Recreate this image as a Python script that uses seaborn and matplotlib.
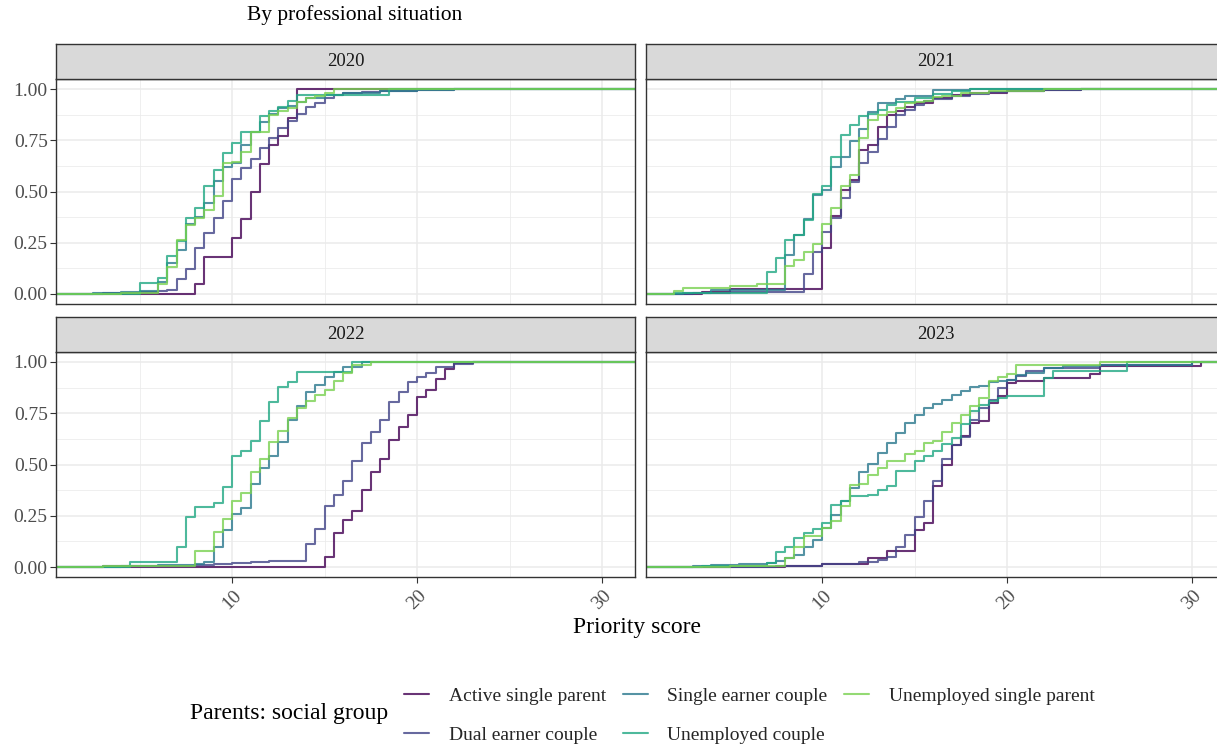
import numpy as np
import pandas as pd
import matplotlib
matplotlib.use("Agg")
import matplotlib.pyplot as plt
from matplotlib.lines import Line2D
import seaborn as sns

# ---------------- data (step points of each ECDF: score, cumulative share) ----------------
groups = ["Active single parent", "Dual earner couple", "Single earner couple",
          "Unemployed couple", "Unemployed single parent"]
years = ["2020", "2021", "2022", "2023"]
x_ticks = [10, 20, 30]
y_ticks = [0.00, 0.25, 0.50, 0.75, 1.00]

# 2020
x20_active = [8, 8.5, 10, 10.5, 11, 11.5, 12, 12.5, 13, 13.5]
y20_active = [0.047, 0.182, 0.275, 0.366, 0.499, 0.636, 0.728, 0.769, 0.859, 1.0]
x20_dual = [3, 5, 6, 6.5, 7, 7.5, 8, 8.5, 9, 9.5, 10, 10.5, 11, 11.5, 12, 12.5, 13, 13.5, 14, 14.5, 15, 15.5, 16, 17, 18, 20, 22]
y20_dual = [0.005, 0.01, 0.015, 0.02, 0.075, 0.122, 0.223, 0.296, 0.369, 0.454, 0.559, 0.613, 0.657, 0.71, 0.76, 0.808, 0.844, 0.88, 0.91, 0.93, 0.955, 0.97, 0.98, 0.985, 0.99, 0.995, 1.0]
x20_single = [2.5, 4, 5, 6, 6.5, 7, 7.5, 8, 8.5, 9, 9.5, 10, 10.5, 11, 11.5, 12, 12.5, 13, 13.5, 14, 15, 16, 18, 20, 22]
y20_single = [0.005, 0.01, 0.015, 0.06, 0.15, 0.215, 0.34, 0.377, 0.442, 0.551, 0.621, 0.637, 0.727, 0.789, 0.841, 0.878, 0.906, 0.919, 0.938, 0.958, 0.971, 0.98, 0.99, 0.995, 1.0]
x20_unemp = [5, 6, 6.5, 7, 7.5, 8, 8.5, 9, 9.5, 10, 10.5, 11.5, 12, 12.5, 13, 13.5, 18.5]
y20_unemp = [0.052, 0.08, 0.187, 0.259, 0.372, 0.421, 0.528, 0.605, 0.686, 0.738, 0.789, 0.868, 0.894, 0.91, 0.94, 0.971, 1.0]
x20_unsingle = [4, 6, 6.5, 7, 7.5, 8, 8.5, 9, 9.5, 10, 10.5, 11, 12, 12.5, 13, 13.5, 14, 14.5, 15, 15.5]
y20_unsingle = [0.005, 0.05, 0.13, 0.265, 0.337, 0.372, 0.41, 0.48, 0.637, 0.645, 0.694, 0.789, 0.873, 0.893, 0.906, 0.935, 0.954, 0.967, 0.979, 1.0]

# 2021
x21_active = [3.5, 5, 10, 10.5, 11, 11.5, 12, 12.5, 13, 13.5, 14, 14.5, 15, 16, 17, 18, 20, 22, 24]
y21_active = [0.01, 0.023, 0.224, 0.379, 0.509, 0.556, 0.704, 0.728, 0.815, 0.871, 0.891, 0.91, 0.93, 0.955, 0.97, 0.98, 0.99, 0.995, 1.0]
x21_dual = [3, 5, 9, 9.5, 10, 10.5, 11, 11.5, 12, 12.5, 13, 13.5, 14, 14.5, 15, 15.5, 16, 17, 18, 19, 20, 22, 24, 26]
y21_dual = [0.005, 0.01, 0.098, 0.207, 0.304, 0.369, 0.467, 0.548, 0.637, 0.694, 0.756, 0.816, 0.873, 0.898, 0.922, 0.94, 0.95, 0.965, 0.975, 0.983, 0.99, 0.995, 0.998, 1.0]
x21_single = [2.5, 4, 8, 8.5, 9, 9.5, 10, 10.5, 11, 11.5, 12, 12.5, 13, 14, 14.5, 16, 18]
y21_single = [0.005, 0.02, 0.189, 0.289, 0.366, 0.485, 0.509, 0.62, 0.668, 0.748, 0.807, 0.888, 0.932, 0.951, 0.967, 0.993, 1.0]
x21_unemp = [2, 7, 7.5, 8, 8.5, 9, 9.5, 10, 10.5, 11, 11.5, 12, 12.5, 13, 13.5, 14, 15, 16, 17, 18]
y21_unemp = [0.003, 0.107, 0.176, 0.265, 0.289, 0.362, 0.489, 0.528, 0.668, 0.777, 0.823, 0.867, 0.88, 0.9, 0.92, 0.935, 0.955, 0.975, 0.99, 1.0]
x21_unsingle = [2, 2.5, 5, 6.5, 8, 8.5, 9, 9.5, 10, 10.5, 11, 11.5, 12, 12.5, 13, 13.5, 14, 14.5, 15, 15.5, 16, 16.5, 17.5, 19, 22]
y21_unsingle = [0.013, 0.029, 0.041, 0.05, 0.135, 0.167, 0.203, 0.246, 0.343, 0.42, 0.529, 0.579, 0.761, 0.847, 0.871, 0.888, 0.907, 0.93, 0.938, 0.943, 0.96, 0.967, 0.98, 0.99, 1.0]

# 2022
x22_active = [15, 15.5, 16, 16.5, 17, 17.5, 18, 18.5, 19, 19.5, 20, 20.5, 21, 21.5, 22, 23]
y22_active = [0.047, 0.166, 0.228, 0.275, 0.377, 0.463, 0.528, 0.618, 0.681, 0.743, 0.829, 0.865, 0.919, 0.967, 0.995, 1.0]
x22_dual = [3, 7, 8, 9, 10, 11, 12, 13, 14, 14.5, 15, 15.5, 16, 16.5, 17, 17.5, 18, 18.5, 19, 19.5, 20, 20.5, 21, 22, 23]
y22_dual = [0.003, 0.005, 0.01, 0.015, 0.02, 0.025, 0.028, 0.03, 0.112, 0.187, 0.296, 0.353, 0.418, 0.518, 0.605, 0.659, 0.719, 0.803, 0.852, 0.902, 0.925, 0.946, 0.974, 0.99, 1.0]
x22_single = [4, 6, 7, 8, 8.5, 9, 9.5, 10, 10.5, 11, 11.5, 12, 12.5, 13, 13.5, 14, 14.5, 15, 15.5, 16, 17]
y22_single = [0.003, 0.008, 0.012, 0.016, 0.025, 0.098, 0.179, 0.26, 0.288, 0.405, 0.483, 0.54, 0.612, 0.717, 0.784, 0.855, 0.89, 0.928, 0.95, 0.975, 1.0]
x22_unemp = [4.5, 7, 7.5, 8, 9, 9.5, 10, 10.5, 11, 11.5, 12, 12.5, 13, 13.5, 16.5]
y22_unemp = [0.024, 0.1, 0.246, 0.293, 0.313, 0.389, 0.54, 0.564, 0.613, 0.71, 0.805, 0.878, 0.902, 0.951, 1.0]
x22_unsingle = [3, 8, 9, 9.5, 10, 10.5, 11, 11.5, 12, 12.5, 13, 13.5, 14, 14.5, 15, 15.5, 16, 16.5, 17.5]
y22_unsingle = [0.003, 0.076, 0.17, 0.234, 0.32, 0.36, 0.462, 0.528, 0.61, 0.663, 0.728, 0.774, 0.81, 0.838, 0.865, 0.906, 0.946, 0.987, 1.0]

# 2023
x23_active = [8, 10, 12.5, 13.5, 15, 15.5, 16, 16.5, 17, 17.5, 18, 18.5, 19, 19.5, 20, 20.5, 22, 24.5, 25, 30.5]
y23_active = [0.005, 0.015, 0.044, 0.076, 0.182, 0.215, 0.393, 0.499, 0.597, 0.637, 0.702, 0.711, 0.8, 0.833, 0.898, 0.909, 0.922, 0.941, 0.979, 1.0]
x23_dual = [7.5, 10, 12, 13, 13.5, 14, 14.5, 15, 15.5, 16, 16.5, 17, 17.5, 18, 18.5, 19, 19.5, 20, 20.5, 21, 22, 25, 30]
y23_dual = [0.005, 0.015, 0.025, 0.035, 0.05, 0.096, 0.158, 0.244, 0.324, 0.42, 0.528, 0.593, 0.632, 0.718, 0.774, 0.815, 0.872, 0.913, 0.934, 0.954, 0.97, 0.985, 1.0]
x23_single = [3, 4, 5.5, 7, 7.5, 8, 8.5, 9, 9.5, 10, 10.5, 11, 11.5, 12, 12.5, 13, 13.5, 14, 14.5, 15, 15.5, 16, 16.5, 17, 17.5, 18, 18.5, 19, 19.5, 20, 20.5, 21, 22, 23, 25, 30]
y23_single = [0.005, 0.008, 0.015, 0.02, 0.028, 0.044, 0.06, 0.1, 0.13, 0.19, 0.252, 0.32, 0.385, 0.463, 0.502, 0.556, 0.605, 0.654, 0.702, 0.743, 0.776, 0.795, 0.816, 0.837, 0.857, 0.878, 0.881, 0.902, 0.909, 0.914, 0.935, 0.946, 0.971, 0.979, 0.987, 1.0]
x23_unemp = [3.5, 7, 7.5, 8, 8.5, 9, 9.5, 10, 10.5, 11, 11.5, 12.5, 13, 13.5, 14, 15, 15.5, 16, 16.5, 17, 17.5, 18, 18.5, 19, 19.5, 20, 22, 22.5, 26.5]
y23_unemp = [0.005, 0.02, 0.072, 0.1, 0.14, 0.167, 0.187, 0.215, 0.304, 0.32, 0.345, 0.353, 0.374, 0.393, 0.467, 0.515, 0.54, 0.564, 0.6, 0.63, 0.7, 0.76, 0.79, 0.81, 0.825, 0.836, 0.922, 0.954, 1.0]
x23_unsingle = [5, 8, 8.5, 9, 10, 10.5, 11, 11.5, 12, 12.5, 13, 13.5, 14.5, 15, 15.5, 16, 16.5, 17, 17.5, 18, 18.5, 19, 19.5, 20, 20.5, 25]
y23_unsingle = [0.003, 0.046, 0.1, 0.15, 0.19, 0.223, 0.3, 0.4, 0.405, 0.447, 0.483, 0.519, 0.551, 0.567, 0.605, 0.616, 0.659, 0.702, 0.743, 0.783, 0.824, 0.906, 0.925, 0.941, 0.984, 1.0]

series = {
    "2020": [(x20_active, y20_active), (x20_dual, y20_dual), (x20_single, y20_single), (x20_unemp, y20_unemp), (x20_unsingle, y20_unsingle)],
    "2021": [(x21_active, y21_active), (x21_dual, y21_dual), (x21_single, y21_single), (x21_unemp, y21_unemp), (x21_unsingle, y21_unsingle)],
    "2022": [(x22_active, y22_active), (x22_dual, y22_dual), (x22_single, y22_single), (x22_unemp, y22_unemp), (x22_unsingle, y22_unsingle)],
    "2023": [(x23_active, y23_active), (x23_dual, y23_dual), (x23_single, y23_single), (x23_unemp, y23_unemp), (x23_unsingle, y23_unsingle)],
}

# ---------------- style ----------------
sns.set_theme(style="white")
plt.rcParams["font.family"] = ["Liberation Serif", "DejaVu Serif"]
palette = dict(zip(groups, ["#440154", "#414487", "#2A788E", "#22A884", "#7AD151"]))
XLIM = (0.48, 31.78)
YLIM = (-0.05, 1.05)
PAD_LO, PAD_HI = -5, 45   # ECDF padding to -Inf / +Inf (clipped by axes)

rows = []
for yr in years:
    for g, (xs, ys) in zip(groups, series[yr]):
        xx = [PAD_LO] + list(xs) + [PAD_HI]
        yy = [0.0] + list(ys) + [1.0]
        for a, b in zip(xx, yy):
            rows.append((yr, g, a, b))
df = pd.DataFrame(rows, columns=["year", "group", "score", "ecdf"])

W, H = 1217, 744
fig = plt.figure(figsize=(W / 100, H / 100), dpi=100)

def px_axes(x0, y0, x1, y1):
    return fig.add_axes([x0 / W, 1 - y1 / H, (x1 - x0) / W, (y1 - y0) / H])

layout = {
    "2020": (56, 78.75, 635, 304.25),
    "2021": (646, 78.75, 1225, 304.25),
    "2022": (56, 351.75, 635, 577.25),
    "2023": (646, 351.75, 1225, 577.25),
}
STRIP_H = 35
dark = "#333333"
TICK_FS = 14

for yr in years:
    x0, y0, x1, y1 = layout[yr]
    ax = px_axes(x0, y0, x1, y1)
    sub = df[df["year"] == yr]
    sns.lineplot(data=sub, x="score", y="ecdf", hue="group", hue_order=groups,
                 palette=palette, drawstyle="steps-post", estimator=None, sort=False,
                 linewidth=1.5, alpha=0.8, legend=False, ax=ax)
    ax.set_xlim(*XLIM)
    ax.set_ylim(*YLIM)
    ax.set_xticks(x_ticks)
    ax.set_xticks([5, 15, 25], minor=True)
    ax.set_yticks(y_ticks)
    ax.set_yticks([0.125, 0.375, 0.625, 0.875], minor=True)
    ax.grid(True, which="major", color="#EBEBEB", linewidth=1.1)
    ax.grid(True, which="minor", color="#EBEBEB", linewidth=0.55)
    ax.set_axisbelow(True)
    ax.set_xlabel("")
    ax.set_ylabel("")
    for sp in ax.spines.values():
        sp.set_color(dark)
        sp.set_linewidth(1.0)
    left = yr in ("2020", "2022")
    bottom = yr in ("2022", "2023")
    ax.tick_params(axis="y", which="major", left=left, labelleft=left, length=4,
                   width=0.8, color=dark, labelcolor="#4D4D4D", labelsize=TICK_FS, pad=2)
    ax.tick_params(axis="x", which="major", bottom=bottom, labelbottom=bottom, length=4,
                   width=0.8, color=dark, labelcolor="#4D4D4D", labelsize=TICK_FS, pad=3)
    ax.tick_params(which="minor", length=0)
    ax.set_yticklabels([f"{v:.2f}" for v in y_ticks])
    ax.set_xticklabels([str(v) for v in x_ticks])
    for lab in ax.get_xticklabels():
        lab.set_rotation(45)
        lab.set_ha("center")
        lab.set_va("top")

    # facet strip
    sax = px_axes(x0, y0 - STRIP_H, x1, y0)
    sax.set_facecolor("#D9D9D9")
    sax.set_xticks([])
    sax.set_yticks([])
    for sp in sax.spines.values():
        sp.set_color(dark)
        sp.set_linewidth(1.0)
    sax.text(0.5, 0.5, yr, ha="center", va="center", fontsize=13.5,
             color="#1A1A1A", transform=sax.transAxes)

# titles
fig.text(355 / W, 1 - 15 / H, "By professional situation", ha="center", va="center",
         fontsize=15.5, color="black")
fig.text(637 / W, 1 - 628 / H, "Priority score", ha="center", va="center",
         fontsize=17, color="black")

# legend
handles = [Line2D([], [], color=palette[g], alpha=0.8, linewidth=1.5) for g in groups]
fs = 14
fig.legend(handles, groups, ncol=3, loc="upper left",
           bbox_to_anchor=(404 / W, 1 - 687 / H), frameon=False, fontsize=fs,
           handlelength=1.3, handletextpad=1.0, columnspacing=0.85,
           labelspacing=1.12, borderpad=0, borderaxespad=0)
fig.text(190 / W, 1 - 714 / H, "Parents: social group", ha="left", va="center",
         fontsize=17, color="black")

fig.savefig("out.png", dpi=100)
